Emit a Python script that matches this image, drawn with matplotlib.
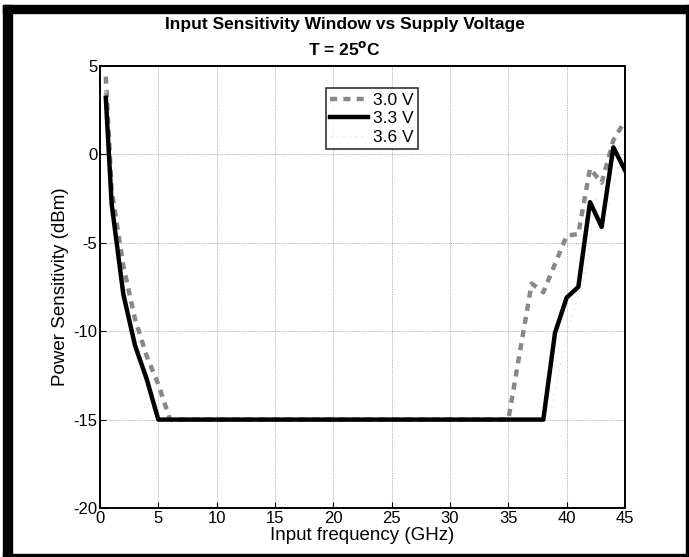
import matplotlib.pyplot as plt
from matplotlib.patches import Rectangle

plt.rcParams['font.family'] = ['Liberation Sans', 'DejaVu Sans']
plt.rcParams['axes.unicode_minus'] = False

# 3.0 V
x30 = [0.5, 1, 2, 3, 4, 5, 6, 35, 37, 38, 40, 41, 42, 43, 44, 45]
y30 = [4.4, -2.0, -6.3, -9.3, -11.4, -13.0, -15.0, -15.0, -7.3, -7.8, -4.6, -4.5, -0.8, -1.6, 0.8, 1.9]
# 3.3 V
x33 = [0.5, 1, 2, 3, 4, 5, 38, 39, 40, 41, 42, 43, 44, 45]
y33 = [3.2, -2.8, -7.9, -10.8, -12.7, -15.0, -15.0, -10.1, -8.1, -7.5, -2.7, -4.1, 0.4, -0.9]
# 3.6 V (very faint in the original)
x36 = [0.5, 1, 2, 3, 4, 5, 38.5, 39.5, 40.5, 41.5, 42.5, 43.5, 44.5, 45]
y36 = [3.6, -2.4, -7.4, -10.4, -12.3, -15.0, -15.0, -11.8, -9.0, -7.0, -2.5, -3.0, -0.5, -0.3]

fig = plt.figure(figsize=(6.89, 5.57), dpi=100)
ax = fig.add_axes([0.1451, 0.0880, 0.7620, 0.7935])

ax.plot(x30, y30, color='#888888', lw=3.2, linestyle=(0, (1.6, 1.4)), label='3.0 V', zorder=2.0)
ax.plot(x33, y33, color='black', lw=3.2, label='3.3 V', zorder=2.2)
ax.plot(x36, y36, color='#ececec', lw=1.0, linestyle=(0, (1.5, 3)), label='3.6 V', zorder=2.1)

ax.set_xlim(0, 45)
ax.set_ylim(-20, 5)
ax.set_xticks(range(0, 46, 5))
ax.set_yticks(range(-20, 6, 5))
ax.grid(True, color='#777777', linestyle=(0, (1, 1.5)), linewidth=0.5)
ax.tick_params(direction='in', length=4, labelsize=12, pad=2)
ax.tick_params(axis='x', pad=2)
for s in ax.spines.values():
    s.set_linewidth(1.4)

ax.set_xlabel('Input frequency (GHz)', fontsize=13.5, labelpad=1)
ax.set_ylabel('Power Sensitivity (dBm)', fontsize=13.5, labelpad=3)

leg = ax.legend(loc='upper left', bbox_to_anchor=(0.43, 0.95), fontsize=12.5,
                frameon=True, fancybox=False, handlelength=2.2, handletextpad=0.3,
                borderpad=0.25, labelspacing=0.2, borderaxespad=0)
leg.get_frame().set_edgecolor('black')
leg.get_frame().set_linewidth(1.2)

fig.text(0.5, 1 - 25 / 557, 'Input Sensitivity Window vs Supply Voltage', ha='center', va='center',
         fontsize=12.5, fontweight='bold', family=['Liberation Sans Narrow', 'Liberation Sans'])
fig.text(0.5, 1 - 49 / 557, r'T = 25$^{\mathbf{o}}$C', ha='center', va='center',
         fontsize=12.5, fontweight='bold', family=['Liberation Sans Narrow', 'Liberation Sans'])

# border around the figure
W, H = 689, 557
fig.patches.append(Rectangle((3 / W, 0), 9 / W, 1 - 5 / H, transform=fig.transFigure, color='black'))
fig.patches.append(Rectangle((3 / W, 1 - 13 / H), 1 - 3 / W, 8 / H, transform=fig.transFigure, color='black'))
fig.patches.append(Rectangle((3 / W, 0), 1 - 3 / W, 3 / H, transform=fig.transFigure, color='black'))
fig.patches.append(Rectangle((1 - 3 / W, 0), 3 / W, 1 - 5 / H, transform=fig.transFigure, color='black'))

fig.savefig('out.png', dpi=100)
